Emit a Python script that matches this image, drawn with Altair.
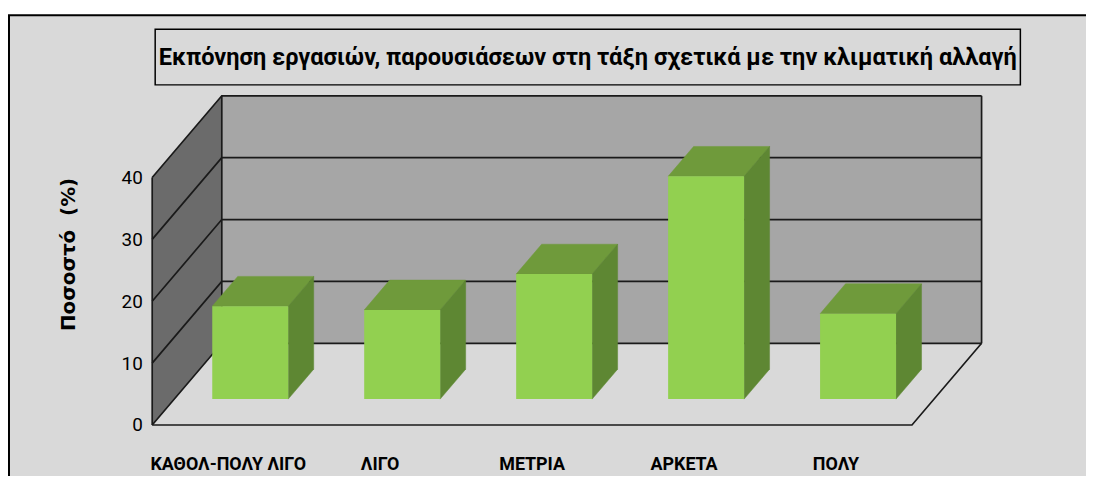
import altair as alt
import pandas as pd

# ---- data ----
categories = ["ΚΑΘΟΛ-ΠΟΛΥ ΛΙΓΟ", "ΛΙΓΟ", "ΜΕΤΡΙΑ", "ΑΡΚΕΤΑ", "ΠΟΛΥ"]
values = [15.0, 14.4, 20.2, 36.0, 13.8]
y_ticks = [0, 10, 20, 30, 40]
title_text = "Εκπόνηση εργασιών, παρουσιάσεων στη τάξη σχετικά με την κλιματική αλλαγή"
y_title = "Ποσοστό\u00a0\u00a0(%)"

# ---- 3-D look (style constants) ----
N = len(categories)
YMAX = max(y_ticks)
DX = 0.458          # depth shift in category units
DY = 13.2           # depth shift in value units
BAR_W = 0.50        # bar width in category units
Z0, Z1 = 0.317, 0.683   # bar front / back depth fractions

NARROW = "Roboto, sans-serif"

x_scale = alt.Scale(domain=[0, N + DX], nice=False, zero=False)
y_scale = alt.Scale(domain=[0, YMAX + DY], nice=False, zero=False)
y_axis = alt.Axis(values=y_ticks, domain=False, ticks=False, grid=False, zindex=1,
                  labelFont=NARROW, labelFontSize=19, labelColor="black",
                  labelPadding=10, title=y_title, titleFont="DejaVu Sans",
                  titleFontSize=20, titleFontWeight="bold", titleColor="black",
                  titleX=-84, titleY=159, titleAngle=270, titleAlign="center",
                  titleBaseline="middle")

# ---- polygons (walls, floor, bar faces) as area rows ----
poly_rows = []
def add_poly(pid, color, pts):
    for x, y, y2 in pts:
        poly_rows.append({"pid": pid, "color": color, "x": x, "y": y, "y2": y2})

add_poly("back", "#a6a6a6", [(DX, YMAX + DY, DY), (N + DX, YMAX + DY, DY)])
add_poly("left", "#6b6b6b", [(0, YMAX, 0), (DX, YMAX + DY, DY)])
add_poly("floor", "#d9d9d9", [(0, 0, 0), (DX, DY, 0), (N, DY, 0), (N + DX, DY, DY)])
walls = pd.DataFrame(poly_rows)

bar_rows = []
for i, (c, v) in enumerate(zip(categories, values)):
    x0 = i + 0.5 - BAR_W / 2 + Z0 * DX
    x1 = x0 + BAR_W
    b0 = Z0 * DY
    ddx = (Z1 - Z0) * DX
    ddy = (Z1 - Z0) * DY
    for x, y, y2 in [(x0, b0 + v, b0 + v), (x0 + ddx, b0 + v + ddy, b0 + v),
                     (x1, b0 + v + ddy, b0 + v), (x1 + ddx, b0 + v + ddy, b0 + v + ddy)]:
        bar_rows.append({"pid": f"top{i}", "color": "#6f9a3b", "x": x, "y": y, "y2": y2})
    for x, y, y2 in [(x1, b0 + v, b0), (x1 + ddx, b0 + v + ddy, b0 + ddy)]:
        bar_rows.append({"pid": f"side{i}", "color": "#5e8733", "x": x, "y": y, "y2": y2})
bar_faces = pd.DataFrame(bar_rows)

fronts = pd.DataFrame({
    "cat": categories,
    "val": values,
    "x0": [i + 0.5 - BAR_W / 2 + Z0 * DX for i in range(N)],
    "x1": [i + 0.5 + BAR_W / 2 + Z0 * DX for i in range(N)],
    "b0": [Z0 * DY] * N,
    "top": [Z0 * DY + v for v in values],
})

# ---- lines: gridlines on walls + edges ----
line_rows = []
def add_line(sid, pts):
    for k, (x, y) in enumerate(pts):
        line_rows.append({"sid": sid, "k": k, "x": x, "y": y})
for t in y_ticks:
    add_line(f"g{t}", [(0, t), (DX, t + DY), (N + DX, t + DY)])
add_line("front_axis", [(0, 0), (0, YMAX)])
add_line("floor_front", [(0, 0), (N, 0), (N + DX, DY)])
add_line("back_right", [(N + DX, DY), (N + DX, YMAX + DY)])
add_line("back_left", [(DX, DY), (DX, YMAX + DY)])
lines = pd.DataFrame(line_rows)

labels = pd.DataFrame({"cat": categories, "x": [i + 0.5 for i in range(N)], "y": [0] * N})

X = lambda f: alt.X(f, scale=x_scale, axis=None)
Y = lambda f: alt.Y(f, scale=y_scale, axis=y_axis)

# ---- layers ----
frame = alt.Chart(pd.DataFrame({"a": [0]})).mark_rect(
    fill="#d9d9d9", stroke="black", strokeWidth=2
).encode(x=alt.value(-144), x2=alt.value(2000), y=alt.value(-81), y2=alt.value(2000))

title_box = alt.Chart(pd.DataFrame({"a": [0]})).mark_rect(
    fill="#d9d9d9", stroke="black", strokeWidth=1.5
).encode(x=alt.value(3), x2=alt.value(873), y=alt.value(-67), y2=alt.value(-11))

title_mark = alt.Chart(pd.DataFrame({"t": [title_text]})).mark_text(
    font=NARROW, fontSize=23.7, fontWeight="bold", color="black", align="center", baseline="middle"
).encode(x=alt.value(438), y=alt.value(-38), text="t:N")

wall_layer = alt.Chart(walls).mark_area(strokeWidth=0).encode(
    x=X("x:Q"), y=Y("y:Q"), y2="y2:Q",
    detail="pid:N",
    color=alt.Color("color:N", scale=None),
)

line_layer = alt.Chart(lines).mark_line(color="#1a1a1a", strokeWidth=1.7).encode(
    x=X("x:Q"), y=Y("y:Q"),
    detail="sid:N",
    order="k:Q",
)

face_layer = alt.Chart(bar_faces).mark_area(strokeWidth=0.5).encode(
    x=X("x:Q"), y=Y("y:Q"), y2="y2:Q",
    detail="pid:N",
    color=alt.Color("color:N", scale=None),
    stroke=alt.Stroke("color:N", scale=None),
)

front_layer = alt.Chart(fronts).mark_rect(color="#92d050").encode(
    x=X("x0:Q"), x2="x1:Q", y=Y("b0:Q"), y2="top:Q",
)

label_layer = alt.Chart(labels).mark_text(
    font=NARROW, fontSize=18, fontWeight="bold", color="black", baseline="middle", dy=40
).encode(
    x=X("x:Q"), y=Y("y:Q"), text="cat:N",
)

chart = alt.layer(
    frame, title_box, title_mark, wall_layer, line_layer, face_layer, front_layer, label_layer
).properties(
    width=834, height=331,
    autosize=alt.AutoSizeParams(type="none"),
    padding={"left": 145, "top": 87, "right": 105, "bottom": 50},
    background="white",
).configure_view(stroke=None)

chart.save("out.html", embed_options={"renderer": "svg", "actions": False})
